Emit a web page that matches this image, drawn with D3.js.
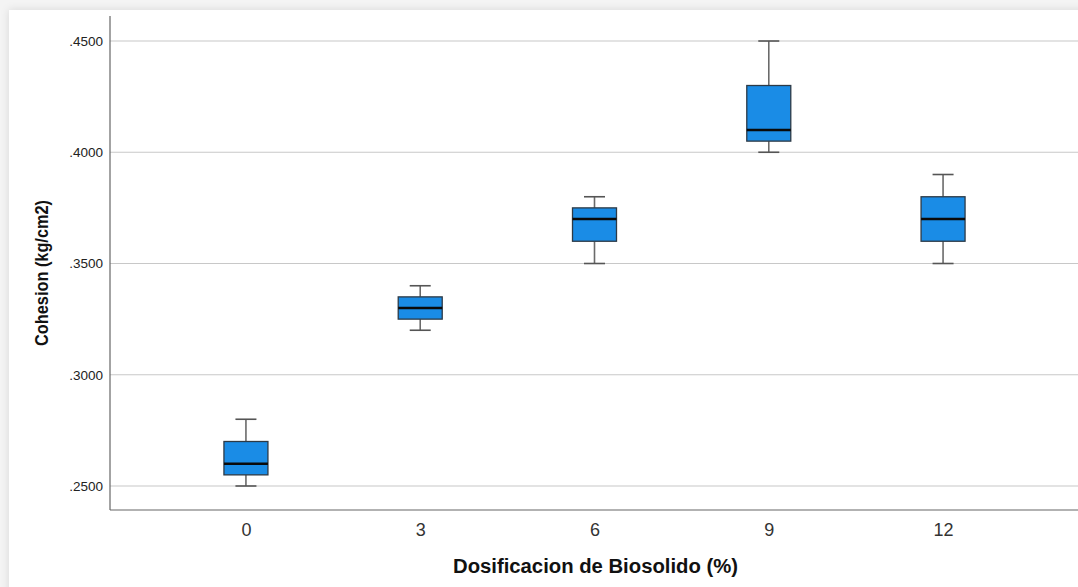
<!DOCTYPE html>
<html>
<head>
<meta charset="utf-8">
<script src="https://cdn.jsdelivr.net/npm/d3@7"></script>
<style>
  body { margin: 0; background: #efefef; }
  svg { display: block; }
  text { font-family: "Liberation Sans", Arial, sans-serif; }
</style>
</head>
<body>
<div id="chart"></div>
<script>
// box plot data
var groups = ["0", "3", "6", "9", "12"];
var mins    = [0.250, 0.320, 0.350, 0.400, 0.350];
var q1s     = [0.255, 0.325, 0.360, 0.405, 0.360];
var medians = [0.260, 0.330, 0.370, 0.410, 0.370];
var q3s     = [0.270, 0.335, 0.375, 0.430, 0.380];
var maxs    = [0.280, 0.340, 0.380, 0.450, 0.390];
var yTicks  = [0.25, 0.30, 0.35, 0.40, 0.45];

var data = groups.map(function(g, i) {
  return {g: g, min: mins[i], q1: q1s[i], med: medians[i], q3: q3s[i], max: maxs[i]};
});

const W = 1078, H = 587;
const plotLeft = 110, plotRight = 1079, plotTop = 16, plotBottom = 510;

const svg = d3.select("#chart").append("svg")
  .attr("width", W)
  .attr("height", H);

// soft card background like the screenshot
var defs = svg.append("defs");
var f = defs.append("filter").attr("id", "shadow")
  .attr("x", "-5%").attr("y", "-5%").attr("width", "110%").attr("height", "110%");
f.append("feDropShadow").attr("dx", 0).attr("dy", 0).attr("stdDeviation", 4)
  .attr("flood-color", "#000").attr("flood-opacity", 0.12);
svg.append("rect").attr("width", W).attr("height", H).attr("fill", "#f4f4f4");
svg.append("rect")
  .attr("x", 9).attr("y", 10).attr("width", W + 20).attr("height", H + 20)
  .attr("fill", "#fff").attr("filter", "url(#shadow)");

const x = d3.scalePoint()
  .domain(groups)
  .range([plotLeft, plotRight])
  .padding(0.78);

const y = d3.scaleLinear()
  .domain([0.23921, 0.46124])
  .range([plotBottom, plotTop]);

// gridlines
svg.append("g")
  .selectAll("line")
  .data(yTicks)
  .join("line")
    .attr("x1", plotLeft).attr("x2", W)
    .attr("y1", d => y(d)).attr("y2", d => y(d))
    .attr("stroke", "#c8c8c8")
    .attr("stroke-width", 1.2);

// y axis
const yAxis = svg.append("g")
  .attr("transform", `translate(${plotLeft},0)`)
  .call(d3.axisLeft(y).tickValues(yTicks).tickSize(0).tickPadding(7)
    .tickFormat(d => d3.format(".4f")(d).replace(/^0/, "")));
yAxis.select(".domain").remove();
yAxis.selectAll("text").attr("font-size", 13.5).attr("fill", "#222")
  .style("font-family", "'Liberation Sans', Arial, sans-serif");

svg.append("line")
  .attr("x1", plotLeft).attr("x2", plotLeft).attr("y1", plotTop).attr("y2", plotBottom)
  .attr("stroke", "#666").attr("stroke-width", 1.2);

// x axis
const xAxis = svg.append("g")
  .attr("transform", `translate(0,${plotBottom})`)
  .call(d3.axisBottom(x).tickSize(0).tickPadding(13));
xAxis.select(".domain").remove();
xAxis.selectAll("text").attr("font-size", 18).attr("fill", "#333")
  .style("font-family", "'Liberation Sans', Arial, sans-serif");

svg.append("line")
  .attr("x1", plotLeft).attr("x2", W).attr("y1", plotBottom).attr("y2", plotBottom)
  .attr("stroke", "#666").attr("stroke-width", 1.2);

// boxes
const boxW = 44, capW = 21;
const box = svg.append("g").selectAll("g")
  .data(data)
  .join("g")
    .attr("transform", d => `translate(${x(d.g)},0)`);

box.append("line")
  .attr("x1", 0).attr("x2", 0)
  .attr("y1", d => y(d.max)).attr("y2", d => y(d.q3))
  .attr("stroke", "#6a6a6a").attr("stroke-width", 1.6);
box.append("line")
  .attr("x1", 0).attr("x2", 0)
  .attr("y1", d => y(d.q1)).attr("y2", d => y(d.min))
  .attr("stroke", "#6a6a6a").attr("stroke-width", 1.6);
box.append("line")
  .attr("x1", -capW / 2).attr("x2", capW / 2)
  .attr("y1", d => y(d.max)).attr("y2", d => y(d.max))
  .attr("stroke", "#555").attr("stroke-width", 1.6);
box.append("line")
  .attr("x1", -capW / 2).attr("x2", capW / 2)
  .attr("y1", d => y(d.min)).attr("y2", d => y(d.min))
  .attr("stroke", "#555").attr("stroke-width", 1.6);

box.append("rect")
  .attr("x", -boxW / 2)
  .attr("width", boxW)
  .attr("y", d => y(d.q3))
  .attr("height", d => y(d.q1) - y(d.q3))
  .attr("fill", "#1a8ce6")
  .attr("stroke", "#2d3a46")
  .attr("stroke-width", 1.3);

box.append("line")
  .attr("x1", -boxW / 2).attr("x2", boxW / 2)
  .attr("y1", d => y(d.med)).attr("y2", d => y(d.med))
  .attr("stroke", "#0a0a0a").attr("stroke-width", 2.6);

// axis titles
svg.append("text")
  .attr("x", 595.5)
  .attr("y", 573)
  .attr("text-anchor", "middle")
  .attr("font-size", 19.5)
  .attr("font-weight", "bold")
  .attr("fill", "#111")
  .attr("textLength", 285)
  .attr("lengthAdjust", "spacingAndGlyphs")
  .text("Dosificacion de Biosolido (%)");

svg.append("text")
  .attr("transform", "translate(48,273) rotate(-90)")
  .attr("text-anchor", "middle")
  .attr("font-size", 18)
  .attr("font-weight", "bold")
  .attr("fill", "#111")
  .attr("textLength", 146)
  .attr("lengthAdjust", "spacingAndGlyphs")
  .text("Cohesion (kg/cm2)");
</script>
</body>
</html>
